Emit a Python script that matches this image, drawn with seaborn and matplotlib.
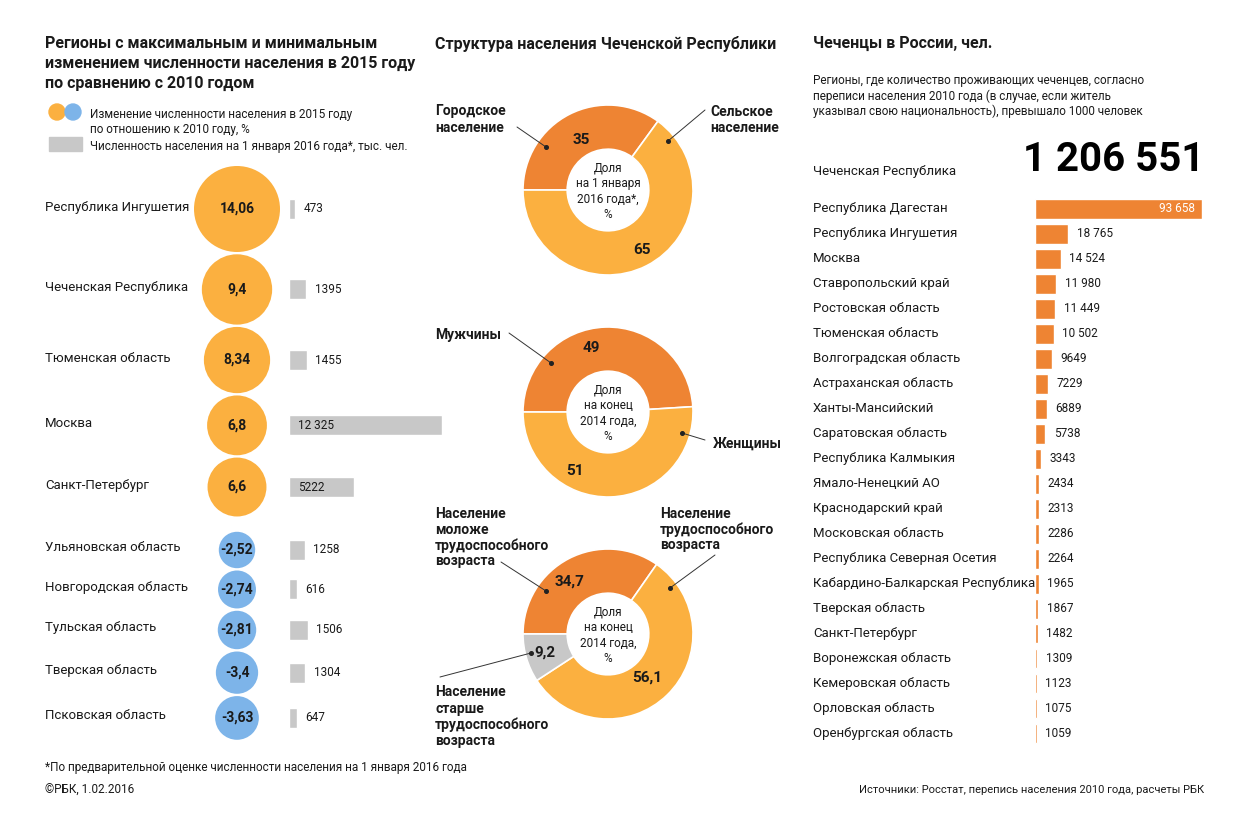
import numpy as np
import matplotlib
matplotlib.use("Agg")
import matplotlib.pyplot as plt
from matplotlib.patches import Circle, Rectangle
from matplotlib.transforms import blended_transform_factory
import seaborn as sns

# --- data ---
left_regions = ['Республика Ингушетия', 'Чеченская Республика', 'Тюменская область',
                'Москва', 'Санкт-Петербург', 'Ульяновская область', 'Новгородская область',
                'Тульская область', 'Тверская область', 'Псковская область']
pop_change = [14.06, 9.4, 8.34, 6.8, 6.6, -2.52, -2.74, -2.81, -3.4, -3.63]
pop_2016 = [473, 1395, 1455, 12325, 5222, 1258, 616, 1506, 1304, 647]

urban_rural = [35, 65]
men_women = [49, 51]
age_groups = [34.7, 56.1, 9.2]

chechnya_total = 1206551
chechen_regions = ['Республика Дагестан', 'Республика Ингушетия', 'Москва', 'Ставропольский край',
                   'Ростовская область', 'Тюменская область', 'Волгоградская область',
                   'Астраханская область', 'Ханты-Мансийский', 'Саратовская область',
                   'Республика Калмыкия', 'Ямало-Ненецкий АО', 'Краснодарский край',
                   'Московская область', 'Республика Северная Осетия',
                   'Кабардино-Балкарская Республика', 'Тверская область', 'Санкт-Петербург',
                   'Воронежская область', 'Кемеровская область', 'Орловская область',
                   'Оренбургская область']
chechen_counts = [93658, 18765, 14524, 11980, 11449, 10502, 9649, 7229, 6889, 5738, 3343,
                  2434, 2313, 2286, 2264, 1965, 1867, 1482, 1309, 1123, 1075, 1059]

# --- style ---
sns.set_theme(style='white')
plt.rcParams['font.family'] = ['Roboto', 'DejaVu Sans']
INK = '#1a1a1a'
ORANGE = '#FBB040'
DARK = '#EE8433'
BLUE = '#7DB4E9'
GRAY = '#C8C8C8'
W, H = 1250, 827


def box(x0, y0, x1, y1):
    return [x0 / W, 1 - y1 / H, (x1 - x0) / W, (y1 - y0) / H]


def num(v):
    s = f'{v:g}'.replace('.', ',')
    if isinstance(v, int) and v >= 10000:
        s = f'{v:,}'.replace(',', ' ')
    return s


def lines(ax, x, y0, dy, rows, **kw):
    for i, r in enumerate(rows):
        ax.text(x, y0 + i * dy, r, va='center_baseline', color=INK, **kw)


fig = plt.figure(figsize=(12.5, 8.27), dpi=100)
ax = fig.add_axes([0, 0, 1, 1])
ax.set_xlim(0, W)
ax.set_ylim(H, 0)
ax.axis('off')
ax.set_zorder(5)

# --- left panel: bubbles + population bars ---
lines(ax, 45, 42, 20, ['Регионы с максимальным и минимальным',
                       'изменением численности населения в 2015 году',
                       'по сравнению с 2010 годом'], fontsize=11.5, fontweight='bold')
ax.add_patch(Circle((57, 112), 8, color=ORANGE))
ax.add_patch(Circle((73, 112), 8, color=BLUE))
ax.add_patch(Rectangle((49, 137), 33, 14, color=GRAY))
lines(ax, 90, 113, 15, ['Изменение численности населения в 2015 году',
                        'по отношению к 2010 году, %'], fontsize=8.5)
lines(ax, 90, 145, 0, ['Численность населения на 1 января 2016 года*, тыс. чел.'], fontsize=8.5)

k = 43 / np.sqrt(max(pop_change))
radii = k * np.sqrt(np.abs(pop_change))
ypos = [209.0]
for i in range(1, len(radii)):
    gap = 2.3 + (13 if (pop_change[i] < 0) != (pop_change[i - 1] < 0) else 0)
    ypos.append(ypos[-1] + radii[i - 1] + radii[i] + gap)

for name, v, r, y in zip(left_regions, pop_change, radii, ypos):
    ax.add_patch(Circle((237, y), r, color=ORANGE if v > 0 else BLUE, lw=0))
    ax.text(237, y, num(v), ha='center', va='center', fontsize=10, fontweight='bold', color=INK)
    ax.text(45, y - 2, name, va='center', fontsize=9.5, color=INK)

ax_pop = fig.add_axes(box(289, 0, 442, H))
ax_pop.barh(ypos, pop_2016, height=20, color=GRAY)
ax_pop.set_xlim(0, max(pop_2016))
ax_pop.set_ylim(H, 0)
ax_pop.axis('off')
for v, y in zip(pop_2016, ypos):
    inside = v > 5000
    ax_pop.annotate(num(v), (0 if inside else v, y), xytext=(6.5 if inside else 6, 0),
                    textcoords='offset points', va='center', fontsize=8.5, color=INK)

# --- middle panel: donuts ---
ax.text(435, 42, 'Структура населения Чеченской Республики', va='center_baseline',
        fontsize=11.5, fontweight='bold', color=INK)


def donut(vals, colors, cy, label_pos, center_text):
    R = 85
    ad = fig.add_axes(box(608 - R, cy - R, 608 + R, cy + R))
    ad.pie(vals, colors=colors, startangle=180, counterclock=False,
           wedgeprops=dict(width=0.52, edgecolor='white', linewidth=1.2))
    ad.set_xlim(-1, 1)
    ad.set_ylim(-1, 1)
    for v, (ang, rr) in zip(vals, label_pos):
        a = np.radians(ang)
        ad.text(rr / R * np.cos(a), rr / R * np.sin(a), num(v), ha='center', va='center',
                fontsize=11, fontweight='bold', color=INK)
    ad.text(0, -0.02, center_text, ha='center', va='center', fontsize=8.5,
            linespacing=1.25, color=INK)


donut(urban_rural, [DARK, ORANGE], 190, [(118, 57), (-60, 69)],
      'Доля\nна 1 января\n2016 года*,\n%')
donut(men_women, [DARK, ORANGE], 412, [(105, 66), (-119, 68)],
      'Доля\nна конец\n2014 года,\n%')
donut(age_groups, [DARK, ORANGE, GRAY], 634, [(126, 65), (-48, 59), (196, 66)],
      'Доля\nна конец\n2014 года,\n%')

callouts = [((517, 127), (546, 147)), ((705, 110), (668, 141)),
            ((509, 333), (551, 363)), ((705, 440), (682, 433)),
            ((501, 562), (546, 591)), ((715, 555), (670, 588)),
            ((440, 677), (531, 653))]
for (x0, y0), (x1, y1) in callouts:
    ax.plot([x0, x1], [y0, y1], color='#333333', lw=0.7)
    ax.plot(x1, y1, 'o', ms=2.6, color='#222222')

bold = dict(fontsize=10, fontweight='bold')
lines(ax, 435, 110, 16, ['Городское', 'население'], **bold)
lines(ax, 710, 110, 16, ['Сельское', 'население'], **bold)
lines(ax, 435, 333, 16, ['Мужчины'], **bold)
lines(ax, 713, 442, 16, ['Женщины'], **bold)
lines(ax, 435, 512, 16, ['Население', 'моложе', 'трудоспособного', 'возраста'], **bold)
lines(ax, 660, 512, 16, ['Население', 'трудоспособного', 'возраста'], **bold)
lines(ax, 435, 691, 16, ['Население', 'старше', 'трудоспособного', 'возраста'], **bold)

# --- right panel: Chechens in Russia ---
ax.text(813, 42, 'Чеченцы в России, чел.', va='center_baseline', fontsize=11.5,
        fontweight='bold', color=INK)
lines(ax, 813, 79, 15.5, ['Регионы, где количество проживающих чеченцев, согласно',
                          'переписи населения 2010 года (в случае, если житель',
                          'указывал свою национальность), превышало 1000 человек'], fontsize=8.5)
ax.text(813, 171, 'Чеченская Республика', va='center', fontsize=9.5, color=INK)
ax.text(1204, 160, f'{chechnya_total:,}'.replace(',', ' '), ha='right', va='center',
        fontsize=29, fontweight='bold', color='black')

ax_r = fig.add_axes(box(1035, 196, 1202, 746))
sns.barplot(x=chechen_counts, y=chechen_regions, orient='h', color=DARK, width=0.8,
            saturation=1, ax=ax_r)
ax_r.set_xlim(0, max(chechen_counts))
ax_r.set_ylim(len(chechen_counts) - 0.5, -0.5)
ax_r.axis('off')
tr = blended_transform_factory(fig.transFigure, ax_r.transData)
for i, (name, v) in enumerate(zip(chechen_regions, chechen_counts)):
    ax_r.text(813 / W, i, name, transform=tr, va='center', fontsize=9.5, color=INK)
    if i == 0:
        ax_r.annotate(num(v), (v, i), xytext=(-5, 0), textcoords='offset points',
                      ha='right', va='center', fontsize=8.5, color='white')
    else:
        ax_r.annotate(num(v), (v, i), xytext=(6, 0), textcoords='offset points',
                      va='center', fontsize=8.5, color=INK)

# --- footer ---
ax.text(45, 768, '*По предварительной оценке численности населения на 1 января 2016 года',
        va='center', fontsize=8.5, color=INK)
ax.text(45, 790, '©РБК, 1.02.2016', va='center', fontsize=8.5, color=INK)
ax.text(1204, 790, 'Источники: Росстат, перепись населения 2010 года, расчеты РБК',
        ha='right', va='center', fontsize=8, color=INK)

fig.savefig('out.png', dpi=100, facecolor='white')
